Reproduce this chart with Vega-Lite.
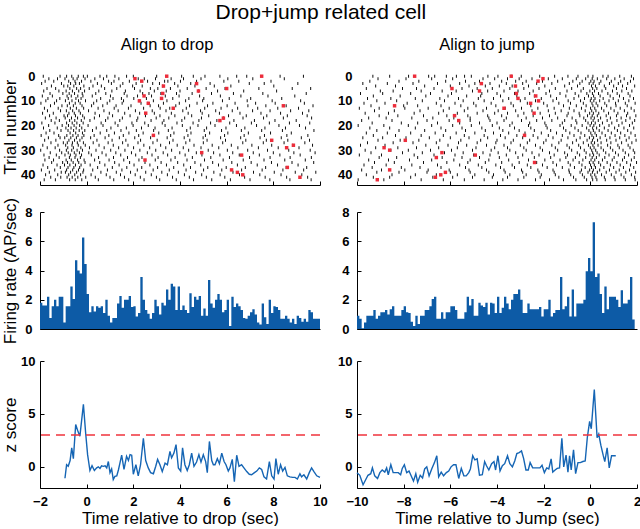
{
"$schema":"https://vega.github.io/schema/vega-lite/v6.json",
"padding":{"left":0,"top":1,"right":0,"bottom":0},
"title":{"text":"Drop+jump related cell","fontSize":21,"fontWeight":"normal","font":"Liberation Sans","color":"#000","anchor":"middle","offset":14,"dx":0},
"config":{"font":"Liberation Sans","view":{"stroke":null},
"axis":{"grid":false,"domainColor":"#000","domainWidth":1,"tickColor":"#000","tickSize":-4,"tickWidth":1,"labelColor":"#000","labelFont":"Liberation Sans","labelFontSize":13,"labelFontWeight":"bold","labelPadding":9,"labelFlush":false,"labelOverlap":false,"titleColor":"#000","titleFont":"Liberation Sans","titleFontSize":17,"titleFontWeight":"normal"},
"axisX":{"labelPadding":11,"titlePadding":2},
"title":{"font":"Liberation Sans","fontWeight":"normal","color":"#000"}},
"datasets":{
"rasL":[
{"tr":0,"s":[-1.86,-1.14,-0.86,-0.64,-0.36,-0.14,0.03,0.57,0.86,1.21,1.71,2.0,3.0,4.07,4.57,5.07,5.71,6.43,6.86,8.29,9.29]},
{"tr":1,"s":[-1.62,-1.25,-0.93,-0.58,-0.41,-0.07,0.35,0.72,1.38,2.21,2.47,2.95,3.62,4.15,4.9,6.05,7.12,8.47]},
{"tr":2,"s":[-1.78,-1.41,-0.77,-0.5,-0.22,0.18,0.94,1.17,1.83,2.61,3.34,3.48,4.02,4.71,5.88,6.52,7.9]},
{"tr":3,"s":[-1.93,-1.08,-0.69,-0.47,-0.31,0.46,1.06,1.55,2.12,2.83,3.12,3.77,4.46,5.29,6.97,7.61,9.05]},
{"tr":4,"s":[-1.51,-0.98,-0.81,-0.55,-0.12,0.27,0.63,1.44,1.97,2.38,3.26,3.91,4.64,5.47,6.18,8.02]},
{"tr":5,"s":[-1.7,-1.33,-0.72,-0.43,-0.26,0.11,0.77,1.29,2.05,2.73,3.05,3.59,4.31,5.12,5.93,7.38,8.81,9.6]},
{"tr":6,"s":[-1.84,-1.19,-0.88,-0.61,-0.34,-0.09,0.52,1.08,1.66,2.29,2.9,3.41,4.0,4.79,5.61,6.73,8.14]},
{"tr":7,"s":[-1.57,-1.02,-0.75,-0.52,-0.19,0.39,0.82,1.61,2.4,2.67,3.18,3.85,4.52,5.35,6.29,7.55,9.41]},
{"tr":8,"s":[-1.9,-1.47,-0.84,-0.66,-0.38,-0.16,0.24,1.02,1.73,2.18,2.78,3.37,3.96,4.84,5.73,6.61,7.77,8.92]},
{"tr":9,"s":[-1.66,-1.15,-0.79,-0.46,-0.24,0.6,1.13,1.49,2.02,2.56,3.21,3.69,4.38,5.02,6.11,7.03,8.36]},
{"tr":10,"s":[-1.75,-1.29,-0.91,-0.63,-0.35,-0.05,0.43,0.99,1.58,2.25,2.86,3.44,4.24,4.97,5.82,6.88,7.95,9.17]},
{"tr":11,"s":[-1.96,-1.38,-0.74,-0.49,-0.28,0.3,0.88,1.52,2.33,2.62,3.29,3.97,4.73,5.41,6.36,7.24,8.08,9.33]},
{"tr":12,"s":[-1.55,-1.06,-0.83,-0.57,-0.2,0.21,0.69,1.26,1.9,2.72,3.08,3.82,4.41,5.18,6.02,6.91,7.68,8.55,9.7]},
{"tr":13,"s":[-1.81,-1.22,-0.7,-0.44,-0.13,0.49,1.18,1.79,2.44,3.15,3.56,4.27,5.06,5.76,6.47,7.33,8.19,9.08]},
{"tr":14,"s":[-1.68,-1.12,-0.87,-0.6,-0.33,0.08,0.74,1.35,2.09,2.81,3.4,4.12,4.88,5.53,6.24,7.11,7.86,8.74,9.52]},
{"tr":15,"s":[-1.89,-1.43,-0.76,-0.53,-0.27,0.36,0.97,1.63,2.27,2.9,3.63,4.35,4.95,5.69,6.57,7.47,8.31,9.25]},
{"tr":16,"s":[-1.59,-0.97,-0.82,-0.48,-0.17,0.55,1.11,1.86,2.52,3.14,3.78,4.5,5.23,6.08,6.84,7.72,8.6,9.45]},
{"tr":17,"s":[-1.77,-1.31,-0.92,-0.65,-0.39,-0.1,0.33,0.91,1.53,2.19,2.98,3.52,4.2,4.92,5.86,6.7,7.58,8.43,9.64]},
{"tr":18,"s":[-1.52,-1.17,-0.73,-0.51,-0.23,0.14,0.81,1.42,2.15,2.76,3.31,4.08,4.81,5.58,6.31,7.19,8.07,8.98]},
{"tr":19,"s":[-1.92,-1.36,-0.86,-0.62,-0.42,-0.15,0.62,1.22,1.94,2.49,3.24,3.87,4.56,5.31,6.13,7.06,7.83,8.69,9.56]},
{"tr":20,"s":[-1.63,-1.05,-0.78,-0.54,-0.3,0.06,0.7,1.34,1.99,2.64,3.36,4.1,4.77,5.5,6.42,7.28,8.24,9.12]},
{"tr":21,"s":[-1.85,-1.26,-0.89,-0.67,-0.45,-0.21,0.41,1.04,1.7,2.35,2.93,3.66,4.44,5.14,5.97,6.78,7.64,8.52,9.38]},
{"tr":22,"s":[-1.58,-1.1,-0.8,-0.56,-0.32,-0.08,0.25,0.86,1.47,2.13,2.87,3.5,4.29,5.04,5.78,6.63,7.5,8.39,9.74]},
{"tr":23,"s":[-1.74,-1.4,-0.71,-0.47,-0.18,0.58,1.19,1.81,2.42,3.09,3.74,4.47,5.27,6.05,6.93,7.88,8.77]},
{"tr":24,"s":[-1.95,-1.2,-0.85,-0.59,-0.37,-0.12,0.32,0.95,1.57,2.23,2.89,3.6,4.34,5.09,5.91,6.75,7.62,8.58,9.48]},
{"tr":25,"s":[-1.64,-1.14,-0.94,-0.68,-0.44,-0.2,0.17,0.79,1.4,2.06,2.74,3.45,4.18,4.99,5.74,6.6,7.43,8.34,9.2]},
{"tr":26,"s":[-1.8,-1.32,-0.76,-0.52,-0.29,0.44,1.09,1.68,2.31,3.02,3.7,4.42,5.16,5.95,6.82,7.7,8.62,9.55]},
{"tr":27,"s":[-1.53,-1.0,-0.83,-0.61,-0.4,-0.14,0.28,0.92,1.54,2.2,2.84,3.55,4.25,5.0,5.83,6.69,7.57,8.46,9.35]},
{"tr":28,"s":[-1.88,-1.23,-0.9,-0.63,-0.36,-0.06,0.53,1.14,1.77,2.45,3.17,3.88,4.6,5.38,6.2,7.08,7.93,8.83,9.68]},
{"tr":29,"s":[-1.69,-1.35,-0.81,-0.57,-0.25,0.12,0.75,1.37,2.01,2.7,3.39,4.14,4.9,5.66,6.48,7.36,8.21,9.1]},
{"tr":30,"s":[-1.97,-1.16,-0.87,-0.64,-0.41,-0.18,0.4,1.03,1.64,2.28,2.96,3.64,4.37,5.21,6.03,6.9,7.75,8.66,9.58]},
{"tr":31,"s":[-1.56,-1.07,-0.79,-0.53,-0.31,0.09,0.66,1.25,1.92,2.6,3.28,3.99,4.7,5.44,6.26,7.14,8.0,8.88,9.79]},
{"tr":32,"s":[-1.83,-1.3,-0.93,-0.7,-0.46,-0.22,0.2,0.83,1.46,2.1,2.8,3.47,4.22,4.94,5.71,6.54,7.4,8.28,9.15]},
{"tr":33,"s":[-1.61,-1.18,-0.74,-0.5,-0.27,0.51,1.15,1.75,2.37,3.06,3.79,4.53,5.32,6.12,6.98,7.86,8.72,9.63]},
{"tr":34,"s":[-1.79,-1.42,-0.88,-0.66,-0.39,-0.11,0.34,0.96,1.59,2.24,2.94,3.61,4.3,5.05,5.85,6.71,7.6,8.49,9.37]},
{"tr":35,"s":[-1.5,-1.03,-0.82,-0.58,-0.34,-0.07,0.56,1.2,1.84,2.5,3.19,3.9,4.64,5.4,6.22,7.05,7.92,8.8,9.73]},
{"tr":36,"s":[-1.87,-1.27,-0.95,-0.72,-0.48,-0.24,0.15,0.78,1.39,2.03,2.71,3.42,4.16,4.89,5.65,6.46,7.31,8.18,9.06]},
{"tr":37,"s":[-1.67,-1.13,-0.8,-0.55,-0.3,0.47,1.1,1.72,2.36,3.04,3.73,4.45,5.19,5.98,6.8,7.67,8.55,9.43]},
{"tr":38,"s":[-1.94,-1.37,-0.86,-0.6,-0.35,-0.13,0.26,0.89,1.51,2.17,2.85,3.54,4.26,5.01,5.79,6.64,7.52,8.41,9.3]},
{"tr":39,"s":[-1.6,-1.09,-0.91,-0.69,-0.43,-0.16,0.61,1.27,1.88,2.53,3.22,3.93,4.67,5.45,6.27,7.15,8.04,8.94,9.82]},
{"tr":40,"s":[-1.76,-1.24,-0.77,-0.51,-0.26,0.19,0.84,1.45,2.08,2.77,3.46,4.19,4.93,5.72,6.55,7.42,8.33,9.22]},
{"tr":41,"s":[-1.54,-1.11,-0.84,-0.62,-0.38,-0.04,0.37,1.0,1.62,2.3,2.99,3.68,4.4,5.13,5.92,6.77,7.65,8.57,9.47]},
{"tr":42,"s":[-1.82,-1.34,-0.73,-0.49,-0.21,0.5,1.16,1.8,2.46,3.13,3.84,4.58,5.36,6.16,7.0,7.85,8.71,9.62]}
],
"redL":[
{"tr":0,"s":3.43},{"tr":0,"s":7.5},{"tr":1,"s":2.07},{"tr":2,"s":2.36},{"tr":3,"s":4.71},{"tr":4,"s":3.29},{"tr":5,"s":6.0},{"tr":6,"s":4.79},{"tr":7,"s":3.26},{"tr":8,"s":2.46},{"tr":9,"s":3.21},{"tr":10,"s":2.26},{"tr":11,"s":2.64},{"tr":12,"s":8.43},{"tr":13,"s":3.71},{"tr":15,"s":2.53},{"tr":17,"s":5.86},{"tr":18,"s":5.71},{"tr":24,"s":2.86},{"tr":26,"s":7.93},{"tr":28,"s":8.86},{"tr":29,"s":8.57},{"tr":31,"s":4.93},{"tr":32,"s":6.64},{"tr":34,"s":2.5},{"tr":37,"s":8.6},{"tr":38,"s":6.21},{"tr":39,"s":6.46},{"tr":40,"s":6.69},{"tr":41,"s":9.14}
],
"rasR":[
{"tr":0,"s":[-9.32,-8.6,-7.79,-6.93,-6.67,-6.17,-5.74,-5.39,-5.1,-4.39,-3.96,-3.39,-2.96,-2.17,-1.53,-0.96,-0.53,-0.1,0.11,0.54,0.76,1.26,1.76]},
{"tr":1,"s":[-9.1,-7.9,-6.8,-5.9,-4.6,-4.1,-3.55,-3.05,-2.5,-1.8,-1.2,-0.6,-0.2,0.08,0.3,0.7,1.05,1.45,1.85]},
{"tr":2,"s":[-9.45,-8.2,-7.35,-6.2,-5.35,-4.75,-3.8,-3.2,-2.75,-2.05,-1.4,-0.75,-0.35,0.02,0.16,0.45,0.9,1.3,1.72]},
{"tr":3,"s":[-9.75,-8.7,-7.6,-6.55,-5.6,-4.95,-4.3,-3.6,-2.9,-2.3,-1.65,-0.9,-0.45,-0.05,0.12,0.38,0.82,1.2,1.6]},
{"tr":4,"s":[-9.2,-8.35,-7.1,-6.0,-5.2,-4.5,-3.9,-3.35,-2.65,-1.95,-1.1,-0.55,0.05,0.22,0.6,1.0,1.38,1.9]},
{"tr":5,"s":[-9.6,-8.05,-7.45,-6.7,-5.5,-4.85,-4.2,-3.45,-2.85,-2.2,-1.5,-0.8,-0.3,0.1,0.28,0.66,1.12,1.55]},
{"tr":6,"s":[-9.0,-8.45,-7.25,-6.35,-5.75,-5.05,-4.4,-3.7,-3.1,-2.45,-1.75,-1.0,-0.4,-0.02,0.18,0.5,0.95,1.35,1.78]},
{"tr":7,"s":[-9.85,-8.9,-7.7,-6.85,-5.95,-4.65,-4.0,-3.25,-2.6,-1.9,-1.3,-0.65,-0.15,0.09,0.35,0.75,1.15,1.62]},
{"tr":8,"s":[-9.3,-8.15,-7.05,-6.1,-5.3,-4.7,-3.85,-3.15,-2.4,-1.7,-1.05,-0.5,-0.08,0.14,0.42,0.85,1.25,1.7]},
{"tr":9,"s":[-9.55,-8.55,-7.5,-6.45,-5.65,-4.8,-4.15,-3.5,-2.8,-2.1,-1.45,-0.7,-0.25,0.04,0.2,0.55,0.98,1.42,1.85]},
{"tr":10,"s":[-9.15,-8.3,-7.2,-6.25,-5.45,-4.55,-3.75,-3.0,-2.35,-1.6,-0.95,-0.42,0.0,0.15,0.4,0.8,1.2,1.65]},
{"tr":11,"s":[-9.7,-8.8,-7.85,-6.6,-5.8,-5.0,-4.25,-3.4,-2.7,-2.0,-1.35,-0.85,-0.3,0.07,0.25,0.62,1.08,1.5,1.92]},
{"tr":12,"s":[-9.4,-8.0,-7.4,-6.4,-5.55,-4.9,-4.05,-3.3,-2.55,-1.85,-1.15,-0.6,-0.18,0.11,0.32,0.7,1.1,1.58]},
{"tr":13,"s":[-9.9,-9.05,-7.95,-6.95,-6.05,-5.25,-4.45,-3.65,-2.95,-2.25,-1.55,-0.9,-0.38,0.01,0.19,0.48,0.88,1.28,1.75]},
{"tr":14,"s":[-9.25,-8.4,-7.3,-6.3,-5.4,-4.6,-3.95,-3.2,-2.5,-1.8,-1.25,-0.7,-0.22,0.06,0.24,0.58,1.02,1.46,1.88]},
{"tr":15,"s":[-9.65,-8.65,-7.55,-6.5,-5.7,-4.85,-4.1,-3.55,-2.85,-2.15,-1.5,-0.95,-0.48,-0.03,0.13,0.36,0.78,1.18,1.6]},
{"tr":16,"s":[-9.05,-8.25,-7.15,-6.15,-5.25,-4.4,-3.8,-3.1,-2.45,-1.75,-1.0,-0.45,-0.12,0.08,0.3,0.68,1.12,1.55,1.95]},
{"tr":17,"s":[-9.5,-8.75,-7.65,-6.75,-5.85,-5.15,-4.35,-3.6,-2.75,-2.05,-1.4,-0.78,-0.28,0.03,0.17,0.44,0.86,1.32,1.7]},
{"tr":18,"s":[-9.8,-8.5,-7.0,-6.05,-5.15,-4.3,-3.7,-2.95,-2.3,-1.65,-1.1,-0.62,-0.2,0.12,0.34,0.72,1.14,1.52,1.9]},
{"tr":19,"s":[-9.35,-8.1,-7.4,-6.55,-5.6,-4.75,-4.0,-3.35,-2.6,-1.95,-1.2,-0.58,-0.1,0.05,0.21,0.52,0.92,1.36,1.8]},
{"tr":20,"s":[-9.95,-8.85,-7.8,-6.8,-5.9,-5.1,-4.2,-3.45,-2.65,-1.9,-1.3,-0.82,-0.35,-0.01,0.15,0.4,0.8,1.22,1.68]},
{"tr":21,"s":[-9.45,-8.6,-7.5,-6.4,-5.5,-4.65,-3.9,-3.25,-2.55,-1.85,-1.15,-0.66,-0.16,0.1,0.27,0.6,1.04,1.44,1.86]},
{"tr":22,"s":[-9.15,-8.2,-7.1,-6.2,-5.35,-4.5,-3.75,-3.05,-2.4,-1.7,-1.05,-0.52,-0.06,0.13,0.38,0.76,1.16,1.6]},
{"tr":23,"s":[-9.6,-8.7,-7.7,-6.65,-5.75,-4.95,-4.15,-3.5,-2.8,-2.1,-1.45,-0.88,-0.4,0.02,0.2,0.5,0.9,1.3,1.74]},
{"tr":24,"s":[-9.3,-8.35,-7.25,-6.3,-5.4,-4.55,-3.85,-3.15,-2.45,-1.8,-1.2,-0.7,-0.24,0.07,0.26,0.64,1.06,1.48,1.92]},
{"tr":25,"s":[-9.75,-8.9,-7.9,-6.9,-6.0,-5.2,-4.4,-3.65,-2.9,-2.25,-1.6,-0.96,-0.44,-0.04,0.14,0.42,0.84,1.26,1.66]},
{"tr":26,"s":[-9.1,-8.15,-7.35,-6.45,-5.55,-4.7,-4.0,-3.3,-2.6,-1.9,-1.25,-0.6,-0.14,0.09,0.31,0.7,1.1,1.54,1.96]},
{"tr":27,"s":[-9.55,-8.45,-7.6,-6.6,-5.65,-4.85,-4.05,-3.4,-2.7,-2.0,-1.35,-0.76,-0.3,0.04,0.18,0.46,0.88,1.34,1.78]},
{"tr":28,"s":[-9.85,-8.8,-7.05,-6.1,-5.3,-4.45,-3.7,-3.0,-2.35,-1.65,-1.0,-0.5,-0.08,0.11,0.33,0.74,1.18,1.62]},
{"tr":29,"s":[-9.2,-8.25,-7.45,-6.5,-5.7,-4.9,-4.1,-3.55,-2.85,-2.15,-1.5,-0.9,-0.42,0.0,0.16,0.46,0.86,1.24,1.7]},
{"tr":30,"s":[-9.65,-8.55,-7.8,-6.85,-5.95,-5.05,-4.25,-3.45,-2.75,-2.05,-1.4,-0.8,-0.26,0.06,0.23,0.56,0.96,1.4,1.84]},
{"tr":31,"s":[-9.4,-8.05,-7.2,-6.25,-5.45,-4.6,-3.95,-3.2,-2.5,-1.75,-1.1,-0.56,-0.18,0.1,0.29,0.66,1.08,1.5,1.9]},
{"tr":32,"s":[-9.9,-8.95,-7.55,-6.7,-5.8,-5.0,-4.3,-3.6,-2.9,-2.2,-1.55,-0.98,-0.46,-0.02,0.14,0.38,0.8,1.2,1.64]},
{"tr":33,"s":[-9.05,-8.3,-7.4,-6.35,-5.5,-4.75,-3.9,-3.1,-2.4,-1.7,-1.05,-0.64,-0.2,0.08,0.26,0.62,1.02,1.46,1.88]},
{"tr":34,"s":[-9.5,-8.65,-7.75,-6.8,-5.85,-5.15,-4.35,-3.5,-2.65,-1.95,-1.3,-0.74,-0.32,0.03,0.19,0.52,0.94,1.38,1.76]},
{"tr":35,"s":[-9.25,-8.4,-7.15,-6.15,-5.25,-4.5,-3.8,-3.05,-2.3,-1.6,-0.95,-0.48,-0.04,0.12,0.36,0.72,1.14,1.56,1.98]},
{"tr":36,"s":[-9.7,-8.75,-7.65,-6.55,-5.6,-4.8,-4.05,-3.35,-2.7,-2.05,-1.45,-0.86,-0.36,0.01,0.17,0.44,0.86,1.28,1.72]},
{"tr":37,"s":[-9.35,-8.1,-7.3,-6.4,-5.35,-4.65,-3.85,-3.25,-2.55,-1.85,-1.2,-0.68,-0.22,0.05,0.22,0.58,1.0,1.42,1.86]},
{"tr":38,"s":[-9.8,-8.95,-7.95,-6.95,-6.05,-5.2,-4.45,-3.7,-2.95,-2.25,-1.6,-0.92,-0.38,-0.03,0.13,0.4,0.82,1.24,1.68]},
{"tr":39,"s":[-9.15,-8.2,-7.0,-6.0,-5.15,-4.35,-3.65,-2.9,-2.2,-1.55,-0.9,-0.44,-0.1,0.09,0.3,0.68,1.1,1.52,1.94]},
{"tr":40,"s":[-9.6,-8.5,-7.5,-6.6,-5.7,-4.95,-4.15,-3.45,-2.75,-2.1,-1.5,-0.84,-0.34,0.02,0.19,0.48,0.9,1.32,1.76]},
{"tr":41,"s":[-9.3,-8.6,-7.7,-6.75,-5.9,-5.05,-4.2,-3.55,-2.85,-2.15,-1.35,-0.72,-0.26,0.07,0.24,0.6,1.02,1.44,1.9]},
{"tr":42,"s":[-9.95,-8.85,-7.25,-6.3,-5.4,-4.55,-3.75,-3.1,-2.35,-1.75,-1.15,-0.62,-0.16,0.1,0.28,0.64,1.06,1.5,1.92]}
],
"redR":[
{"tr":0,"s":-7.53},{"tr":0,"s":-3.39},{"tr":1,"s":-2.03},{"tr":2,"s":-2.24},{"tr":3,"s":-4.67},{"tr":4,"s":-3.21},{"tr":5,"s":-5.93},{"tr":6,"s":-4.75},{"tr":7,"s":-3.17},{"tr":8,"s":-2.34},{"tr":9,"s":-3.1},{"tr":10,"s":-2.22},{"tr":11,"s":-2.56},{"tr":12,"s":-8.39},{"tr":13,"s":-3.7},{"tr":15,"s":-2.41},{"tr":16,"s":-5.82},{"tr":18,"s":-5.64},{"tr":24,"s":-2.82},{"tr":26,"s":-7.93},{"tr":29,"s":-8.84},{"tr":30,"s":-8.6},{"tr":31,"s":-6.36},{"tr":32,"s":-4.93},{"tr":33,"s":-6.6},{"tr":35,"s":-2.39},{"tr":38,"s":-8.6},{"tr":39,"s":-6.21},{"tr":40,"s":-6.41},{"tr":41,"s":-6.64},{"tr":42,"s":-9.13}
],
"hL":[
{"t":-2.0,"r":1.8},{"t":-1.9,"r":1.6},{"t":-1.8,"r":1.6},{"t":-1.7,"r":2.2},{"t":-1.6,"r":0.75},{"t":-1.5,"r":1.55},{"t":-1.4,"r":2.0},{"t":-1.3,"r":1.55},{"t":-1.2,"r":2.2},{"t":-1.1,"r":2.2},
{"t":-1.0,"r":0.45},{"t":-0.9,"r":1.55},{"t":-0.8,"r":1.55},{"t":-0.7,"r":2.9},{"t":-0.6,"r":2.05},{"t":-0.5,"r":4.7},{"t":-0.4,"r":4.0},{"t":-0.3,"r":3.8},{"t":-0.2,"r":6.25},{"t":-0.1,"r":4.45},
{"t":0.0,"r":2.4},{"t":0.1,"r":1.15},{"t":0.2,"r":1.55},{"t":0.3,"r":1.2},{"t":0.4,"r":1.55},{"t":0.5,"r":1.45},{"t":0.6,"r":1.55},{"t":0.7,"r":1.1},{"t":0.8,"r":2.0},{"t":0.9,"r":0.9},
{"t":1.0,"r":0.45},{"t":1.1,"r":0.75},{"t":1.2,"r":0.75},{"t":1.3,"r":1.75},{"t":1.4,"r":2.25},{"t":1.5,"r":1.45},{"t":1.6,"r":2.0},{"t":1.7,"r":2.0},{"t":1.8,"r":2.25},{"t":1.9,"r":1.5},
{"t":2.0,"r":1.55},{"t":2.1,"r":0.85},{"t":2.2,"r":1.1},{"t":2.3,"r":3.55},{"t":2.4,"r":2.0},{"t":2.5,"r":1.3},{"t":2.6,"r":1.05},{"t":2.7,"r":0.7},{"t":2.8,"r":1.1},{"t":2.9,"r":2.0},
{"t":3.0,"r":1.55},{"t":3.1,"r":1.0},{"t":3.2,"r":1.8},{"t":3.3,"r":1.6},{"t":3.4,"r":2.7},{"t":3.5,"r":2.0},{"t":3.6,"r":3.1},{"t":3.7,"r":2.9},{"t":3.8,"r":1.3},{"t":3.9,"r":2.9},
{"t":4.0,"r":1.3},{"t":4.1,"r":1.6},{"t":4.2,"r":1.3},{"t":4.3,"r":1.1},{"t":4.4,"r":2.45},{"t":4.5,"r":1.5},{"t":4.6,"r":2.2},{"t":4.7,"r":2.0},{"t":4.8,"r":2.25},{"t":4.9,"r":0.9},
{"t":5.0,"r":1.4},{"t":5.1,"r":0.9},{"t":5.2,"r":3.35},{"t":5.3,"r":1.75},{"t":5.4,"r":1.45},{"t":5.5,"r":2.0},{"t":5.6,"r":2.4},{"t":5.7,"r":2.0},{"t":5.8,"r":1.15},{"t":5.9,"r":1.3},
{"t":6.0,"r":2.0},{"t":6.1,"r":0.2},{"t":6.2,"r":2.2},{"t":6.3,"r":1.5},{"t":6.4,"r":1.75},{"t":6.5,"r":1.55},{"t":6.6,"r":1.3},{"t":6.7,"r":0.75},{"t":6.8,"r":0.7},{"t":6.9,"r":0.9},
{"t":7.0,"r":1.15},{"t":7.1,"r":1.35},{"t":7.2,"r":1.0},{"t":7.3,"r":0.45},{"t":7.4,"r":0.3},{"t":7.5,"r":1.75},{"t":7.6,"r":0.8},{"t":7.7,"r":0.35},{"t":7.8,"r":2.0},{"t":7.9,"r":1.1},
{"t":8.0,"r":1.55},{"t":8.1,"r":1.5},{"t":8.2,"r":1.3},{"t":8.3,"r":0.7},{"t":8.4,"r":0.7},{"t":8.5,"r":0.9},{"t":8.6,"r":0.7},{"t":8.7,"r":0.45},{"t":8.8,"r":0.7},{"t":8.9,"r":0.35},
{"t":9.0,"r":0.9},{"t":9.1,"r":0.75},{"t":9.2,"r":0.5},{"t":9.3,"r":0.7},{"t":9.4,"r":0.5},{"t":9.5,"r":1.3},{"t":9.6,"r":1.15},{"t":9.7,"r":0.7},{"t":9.8,"r":0.7},{"t":9.9,"r":0.7},{"t":10.0,"r":0.7}
],
"hR":[
{"t":-10.0,"r":0.9},{"t":-9.9,"r":0.7},{"t":-9.8,"r":0.05},{"t":-9.7,"r":0.45},{"t":-9.6,"r":0.9},{"t":-9.5,"r":0.9},{"t":-9.4,"r":0.9},{"t":-9.3,"r":1.3},{"t":-9.2,"r":0.7},{"t":-9.1,"r":0.9},
{"t":-9.0,"r":1.15},{"t":-8.9,"r":1.15},{"t":-8.8,"r":1.3},{"t":-8.7,"r":1.0},{"t":-8.6,"r":1.35},{"t":-8.5,"r":1.55},{"t":-8.4,"r":0.9},{"t":-8.3,"r":0.9},{"t":-8.2,"r":0.9},{"t":-8.1,"r":1.3},
{"t":-8.0,"r":1.55},{"t":-7.9,"r":1.15},{"t":-7.8,"r":1.1},{"t":-7.7,"r":0.5},{"t":-7.6,"r":0.2},{"t":-7.5,"r":0.9},{"t":-7.4,"r":0.35},{"t":-7.3,"r":0.9},{"t":-7.2,"r":0.9},{"t":-7.1,"r":1.3},
{"t":-7.0,"r":1.3},{"t":-6.9,"r":1.55},{"t":-6.8,"r":2.05},{"t":-6.7,"r":2.2},{"t":-6.6,"r":0.7},{"t":-6.5,"r":0.7},{"t":-6.4,"r":1.15},{"t":-6.3,"r":0.7},{"t":-6.2,"r":1.15},{"t":-6.1,"r":1.15},
{"t":-6.0,"r":1.55},{"t":-5.9,"r":1.55},{"t":-5.8,"r":1.3},{"t":-5.7,"r":0.7},{"t":-5.6,"r":0.7},{"t":-5.5,"r":0.7},{"t":-5.4,"r":1.15},{"t":-5.3,"r":2.2},{"t":-5.2,"r":1.6},{"t":-5.1,"r":2.05},
{"t":-5.0,"r":0.9},{"t":-4.9,"r":0.9},{"t":-4.8,"r":1.8},{"t":-4.7,"r":1.6},{"t":-4.6,"r":1.5},{"t":-4.5,"r":1.8},{"t":-4.4,"r":1.0},{"t":-4.3,"r":1.8},{"t":-4.2,"r":1.75},{"t":-4.1,"r":1.1},
{"t":-4.0,"r":2.2},{"t":-3.9,"r":1.1},{"t":-3.8,"r":1.45},{"t":-3.7,"r":2.2},{"t":-3.6,"r":1.75},{"t":-3.5,"r":1.35},{"t":-3.4,"r":2.0},{"t":-3.3,"r":2.4},{"t":-3.2,"r":2.4},{"t":-3.1,"r":2.7},
{"t":-3.0,"r":2.0},{"t":-2.9,"r":1.1},{"t":-2.8,"r":1.1},{"t":-2.7,"r":1.75},{"t":-2.6,"r":1.35},{"t":-2.5,"r":1.35},{"t":-2.4,"r":1.35},{"t":-2.3,"r":1.35},{"t":-2.2,"r":1.5},{"t":-2.1,"r":0.85},
{"t":-2.0,"r":1.35},{"t":-1.9,"r":1.35},{"t":-1.8,"r":2.0},{"t":-1.7,"r":0.85},{"t":-1.6,"r":1.1},{"t":-1.5,"r":1.3},{"t":-1.4,"r":1.3},{"t":-1.3,"r":3.55},{"t":-1.2,"r":1.35},{"t":-1.1,"r":1.55},
{"t":-1.0,"r":2.2},{"t":-0.9,"r":0.85},{"t":-0.8,"r":2.7},{"t":-0.7,"r":0.85},{"t":-0.6,"r":1.75},{"t":-0.5,"r":1.75},{"t":-0.4,"r":1.75},{"t":-0.3,"r":2.0},{"t":-0.2,"r":3.95},{"t":-0.1,"r":4.85},
{"t":0.0,"r":3.95},{"t":0.1,"r":7.3},{"t":0.2,"r":3.55},{"t":0.3,"r":3.8},{"t":0.4,"r":2.4},{"t":0.5,"r":1.1},{"t":0.6,"r":2.9},{"t":0.7,"r":1.35},{"t":0.8,"r":2.2},{"t":0.9,"r":2.2},
{"t":1.0,"r":2.2},{"t":1.1,"r":2.0},{"t":1.2,"r":1.5},{"t":1.3,"r":2.65},{"t":1.4,"r":1.75},{"t":1.5,"r":1.75},{"t":1.6,"r":2.0},{"t":1.7,"r":3.55},{"t":1.8,"r":0.65},{"t":1.9,"r":0.65}
],
"zL":[
{"t":-0.93,"z":-1.08},{"t":-0.86,"z":0.2},{"t":-0.79,"z":0.05},{"t":-0.71,"z":0.6},{"t":-0.64,"z":1.8},{"t":-0.57,"z":0.77},{"t":-0.47,"z":4.0},{"t":-0.39,"z":3.45},{"t":-0.29,"z":2.9},{"t":-0.14,"z":5.9},{"t":-0.04,"z":3.1},{"t":0.04,"z":1.15},{"t":0.14,"z":-0.35},{"t":0.23,"z":0.1},{"t":0.33,"z":-0.35},{"t":0.43,"z":-0.1},{"t":0.5,"z":0.0},{"t":0.57,"z":-0.15},{"t":0.64,"z":0.1},{"t":0.71,"z":0.05},{"t":0.79,"z":0.1},{"t":0.86,"z":-0.1},{"t":0.93,"z":0.5},{"t":1.0,"z":-0.55},{"t":1.07,"z":-0.2},{"t":1.14,"z":-1.2},{"t":1.21,"z":-0.9},{"t":1.29,"z":-0.85},{"t":1.36,"z":-0.3},{"t":1.43,"z":0.4},{"t":1.5,"z":1.1},{"t":1.6,"z":-0.25},{"t":1.71,"z":1.0},{"t":1.79,"z":0.6},{"t":1.86,"z":1.15},{"t":1.93,"z":1.1},{"t":2.0,"z":-0.7},{"t":2.11,"z":0.2},{"t":2.21,"z":-0.85},{"t":2.31,"z":0.2},{"t":2.43,"z":2.7},{"t":2.53,"z":0.6},{"t":2.64,"z":-0.1},{"t":2.74,"z":-0.55},{"t":2.86,"z":-0.65},{"t":2.96,"z":0.05},{"t":3.04,"z":0.7},{"t":3.14,"z":0.2},{"t":3.24,"z":-0.45},{"t":3.36,"z":0.35},{"t":3.46,"z":0.2},{"t":3.57,"z":1.45},{"t":3.64,"z":0.85},{"t":3.74,"z":1.3},{"t":3.83,"z":2.1},{"t":3.93,"z":-0.1},{"t":4.03,"z":-0.4},{"t":4.11,"z":1.8},{"t":4.21,"z":0.2},{"t":4.31,"z":-0.35},{"t":4.4,"z":0.2},{"t":4.5,"z":1.3},{"t":4.6,"z":0.05},{"t":4.71,"z":0.45},{"t":4.81,"z":1.15},{"t":4.9,"z":0.45},{"t":5.0,"z":1.15},{"t":5.1,"z":0.5},{"t":5.17,"z":-0.55},{"t":5.26,"z":2.4},{"t":5.36,"z":0.6},{"t":5.43,"z":0.2},{"t":5.5,"z":0.2},{"t":5.6,"z":0.77},{"t":5.69,"z":0.3},{"t":5.79,"z":1.3},{"t":5.89,"z":0.5},{"t":5.97,"z":0.2},{"t":6.07,"z":-0.4},{"t":6.14,"z":-0.1},{"t":6.24,"z":0.7},{"t":6.33,"z":-1.4},{"t":6.43,"z":1.1},{"t":6.53,"z":0.05},{"t":6.64,"z":0.2},{"t":6.74,"z":-0.1},{"t":6.86,"z":-0.45},{"t":6.97,"z":-0.7},{"t":7.07,"z":-0.75},{"t":7.19,"z":-0.55},{"t":7.29,"z":-0.4},{"t":7.4,"z":-0.1},{"t":7.5,"z":-0.25},{"t":7.6,"z":-0.95},{"t":7.71,"z":-1.15},{"t":7.83,"z":0.5},{"t":7.93,"z":-0.85},{"t":8.03,"z":-1.15},{"t":8.11,"z":0.77},{"t":8.21,"z":-0.7},{"t":8.31,"z":0.2},{"t":8.4,"z":-0.4},{"t":8.5,"z":-0.05},{"t":8.6,"z":-0.85},{"t":8.71,"z":-0.95},{"t":8.83,"z":-1.0},{"t":8.93,"z":-1.0},{"t":9.03,"z":-1.15},{"t":9.14,"z":-0.65},{"t":9.21,"z":-0.95},{"t":9.31,"z":-0.75},{"t":9.43,"z":-1.15},{"t":9.54,"z":-0.55},{"t":9.64,"z":-0.1},{"t":9.74,"z":-0.45},{"t":9.86,"z":-0.85},{"t":10.0,"z":-1.0}
],
"zR":[
{"t":-10.0,"z":-0.55},{"t":-9.88,"z":-0.8},{"t":-9.74,"z":-1.7},{"t":-9.64,"z":-1.27},{"t":-9.53,"z":-0.8},{"t":-9.41,"z":-0.65},{"t":-9.34,"z":-0.1},{"t":-9.24,"z":-0.85},{"t":-9.12,"z":-1.1},{"t":-9.02,"z":-0.55},{"t":-8.92,"z":-0.3},{"t":-8.81,"z":-0.5},{"t":-8.73,"z":-0.1},{"t":-8.66,"z":-0.75},{"t":-8.55,"z":0.2},{"t":-8.45,"z":-0.55},{"t":-8.35,"z":-0.55},{"t":-8.23,"z":-0.55},{"t":-8.13,"z":-0.75},{"t":-8.06,"z":-0.15},{"t":-7.97,"z":0.2},{"t":-7.87,"z":-0.55},{"t":-7.77,"z":-0.4},{"t":-7.68,"z":-0.85},{"t":-7.58,"z":-1.35},{"t":-7.48,"z":-0.65},{"t":-7.4,"z":-1.45},{"t":-7.29,"z":-0.8},{"t":-7.19,"z":-1.05},{"t":-7.1,"z":-0.2},{"t":-7.01,"z":0.0},{"t":-6.91,"z":-0.85},{"t":-6.79,"z":-0.15},{"t":-6.68,"z":0.4},{"t":-6.58,"z":1.05},{"t":-6.5,"z":-0.95},{"t":-6.39,"z":-0.5},{"t":-6.29,"z":-0.85},{"t":-6.17,"z":-0.55},{"t":-6.07,"z":-0.4},{"t":-5.97,"z":0.0},{"t":-5.86,"z":0.2},{"t":-5.76,"z":0.2},{"t":-5.64,"z":-1.1},{"t":-5.53,"z":-0.15},{"t":-5.42,"z":-0.85},{"t":-5.32,"z":-0.85},{"t":-5.21,"z":-0.55},{"t":-5.14,"z":-0.2},{"t":-5.04,"z":1.05},{"t":-4.95,"z":0.65},{"t":-4.85,"z":0.75},{"t":-4.75,"z":-0.8},{"t":-4.63,"z":-0.75},{"t":-4.53,"z":0.5},{"t":-4.45,"z":0.1},{"t":-4.35,"z":-0.3},{"t":-4.23,"z":0.3},{"t":-4.13,"z":0.5},{"t":-4.06,"z":-0.3},{"t":-3.96,"z":1.05},{"t":-3.87,"z":-0.4},{"t":-3.77,"z":0.1},{"t":-3.67,"z":0.3},{"t":-3.55,"z":1.05},{"t":-3.45,"z":0.3},{"t":-3.34,"z":0.0},{"t":-3.24,"z":0.55},{"t":-3.15,"z":1.25},{"t":-3.05,"z":1.35},{"t":-2.95,"z":1.5},{"t":-2.86,"z":0.8},{"t":-2.76,"z":-0.3},{"t":-2.66,"z":-0.3},{"t":-2.58,"z":0.4},{"t":-2.47,"z":-0.1},{"t":-2.36,"z":-0.1},{"t":-2.26,"z":-0.1},{"t":-2.16,"z":-0.1},{"t":-2.07,"z":0.15},{"t":-1.97,"z":-0.55},{"t":-1.87,"z":-0.1},{"t":-1.78,"z":-0.2},{"t":-1.68,"z":0.75},{"t":-1.61,"z":-0.5},{"t":-1.51,"z":-0.3},{"t":-1.42,"z":-0.15},{"t":-1.32,"z":-0.1},{"t":-1.22,"z":2.7},{"t":-1.14,"z":0.0},{"t":-1.04,"z":1.1},{"t":-0.96,"z":-0.5},{"t":-0.89,"z":1.05},{"t":-0.82,"z":-0.3},{"t":-0.72,"z":1.6},{"t":-0.63,"z":-0.65},{"t":-0.53,"z":0.4},{"t":-0.43,"z":0.4},{"t":-0.32,"z":0.5},{"t":-0.22,"z":0.55},{"t":-0.13,"z":2.75},{"t":-0.03,"z":4.3},{"t":0.04,"z":3.6},{"t":0.17,"z":7.3},{"t":0.29,"z":2.75},{"t":0.36,"z":3.1},{"t":0.45,"z":2.05},{"t":0.55,"z":1.1},{"t":0.62,"z":0.5},{"t":0.72,"z":1.8},{"t":0.81,"z":-0.1},{"t":0.91,"z":1.05},{"t":1.09,"z":1.05}
]
},
"columns":2,
"spacing":{"row":32,"column":37},
"bounds":"flush",
"concat":[
{"width":280,"height":107,
 "title":{"text":"Align to drop","fontSize":16.5,"offset":17,"dx":-13},
 "layer":[
 {"data":{"name":"rasL"},"transform":[{"flatten":["s"]}],
  "mark":{"type":"tick","orient":"vertical","size":3,"thickness":1,"color":"#111","opacity":1},
  "encoding":{"x":{"field":"s","type":"quantitative","scale":{"domain":[-2,10],"nice":false,"zero":false},"axis":{"values":[-2,0,2,4,6,8,10],"tickCount":7,"labels":false,"title":null,"offset":5}},
   "y":{"field":"tr","type":"quantitative","scale":{"domain":[-1.3,42.1],"reverse":true,"nice":false,"zero":false},"axis":{"values":[0,10,20,30,40],"tickCount":5,"labelOverlap":false,"domain":false,"ticks":false,"tickSize":0,"title":"Trial number","titleX":-21,"labelPadding":5}}}},
 {"data":{"name":"redL"},"mark":{"type":"square","size":12,"filled":true,"color":"#ec2d3b","opacity":1},
  "encoding":{"x":{"field":"s","type":"quantitative"},"y":{"field":"tr","type":"quantitative"}}}
 ]},
{"width":280,"height":107,
 "title":{"text":"Align to jump","fontSize":16.5,"offset":17,"dx":-10},
 "layer":[
 {"data":{"name":"rasR"},"transform":[{"flatten":["s"]}],
  "mark":{"type":"tick","orient":"vertical","size":3,"thickness":1,"color":"#111","opacity":1},
  "encoding":{"x":{"field":"s","type":"quantitative","scale":{"domain":[-10,2],"nice":false,"zero":false},"axis":{"values":[-10,-8,-6,-4,-2,0,2],"tickCount":7,"labels":false,"title":null,"offset":5}},
   "y":{"field":"tr","type":"quantitative","scale":{"domain":[-1.3,42.1],"reverse":true,"nice":false,"zero":false},"axis":{"values":[0,10,20,30,40],"tickCount":5,"labelOverlap":false,"domain":false,"ticks":false,"tickSize":0,"title":null,"labelPadding":5}}}},
 {"data":{"name":"redR"},"mark":{"type":"square","size":12,"filled":true,"color":"#ec2d3b","opacity":1},
  "encoding":{"x":{"field":"s","type":"quantitative"},"y":{"field":"tr","type":"quantitative"}}}
 ]},
{"width":280,"height":117,"data":{"name":"hL"},
 "mark":{"type":"area","interpolate":"step-after","color":"#0d5ba6","opacity":1},
 "encoding":{"x":{"field":"t","type":"quantitative","scale":{"domain":[-2,10],"nice":false,"zero":false},"axis":{"labels":false,"ticks":false,"title":null}},
  "y":{"field":"r","type":"quantitative","scale":{"domain":[0,8],"nice":false},"axis":{"values":[0,2,4,6,8],"tickCount":5,"title":"Firing rate (AP/sec)","titleX":-21,"labelPadding":12}}}},
{"width":280,"height":117,"data":{"name":"hR"},
 "mark":{"type":"area","interpolate":"step-after","color":"#0d5ba6","opacity":1},
 "encoding":{"x":{"field":"t","type":"quantitative","scale":{"domain":[-10,2],"nice":false,"zero":false},"axis":{"labels":false,"ticks":false,"title":null}},
  "y":{"field":"r","type":"quantitative","scale":{"domain":[0,8],"nice":false},"axis":{"values":[0,2,4,6,8],"tickCount":5,"title":null,"labelPadding":12}}}},
{"width":280,"height":127,
 "layer":[
  {"data":{"name":"zL"},"mark":{"type":"line","color":"#1565b4","strokeWidth":1.4},
   "encoding":{"x":{"field":"t","type":"quantitative","scale":{"domain":[-2,10],"nice":false,"zero":false},"axis":{"values":[-2,0,2,4,6,8,10],"tickCount":7,"title":"Time relative to drop (sec)"}},
    "y":{"field":"z","type":"quantitative","scale":{"domain":[-2,10],"nice":false,"zero":false},"axis":{"values":[0,5,10],"tickCount":3,"title":"z score","titleX":-21}}}},
  {"data":{"values":[{}]},"mark":{"type":"rule","color":"#f0333d","strokeDash":[9,6],"strokeWidth":1.5},"encoding":{"y":{"datum":3}}}
 ]},
{"width":280,"height":127,
 "layer":[
  {"data":{"name":"zR"},"mark":{"type":"line","color":"#1565b4","strokeWidth":1.4},
   "encoding":{"x":{"field":"t","type":"quantitative","scale":{"domain":[-10,2],"nice":false,"zero":false},"axis":{"values":[-10,-8,-6,-4,-2,0,2],"tickCount":7,"title":"Time relative to Jump (sec)"}},
    "y":{"field":"z","type":"quantitative","scale":{"domain":[-2,10],"nice":false,"zero":false},"axis":{"values":[0,5,10],"tickCount":3,"title":null}}}},
  {"data":{"values":[{}]},"mark":{"type":"rule","color":"#f0333d","strokeDash":[9,6],"strokeWidth":1.5},"encoding":{"y":{"datum":3}}}
 ]}
]
}
